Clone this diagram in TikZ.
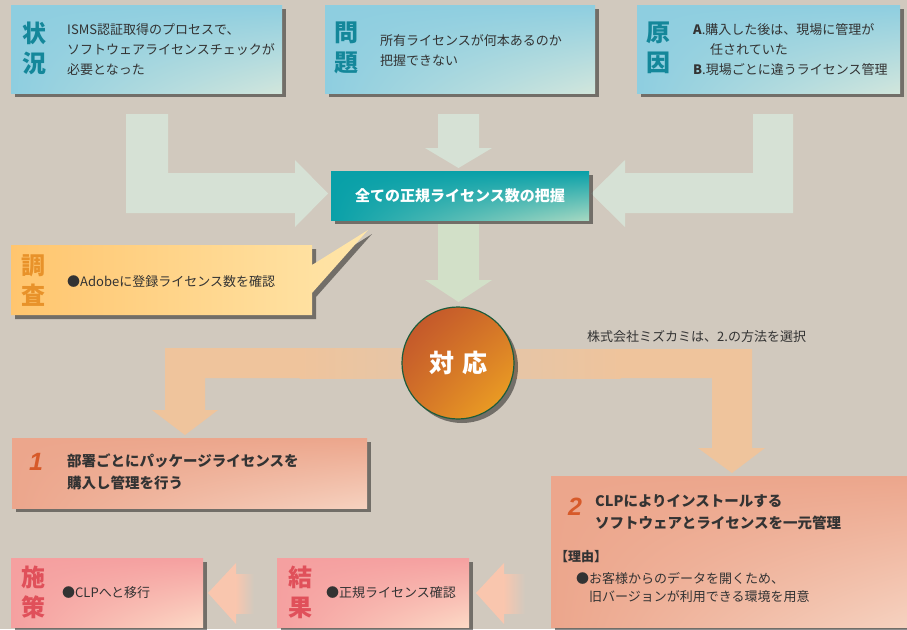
\documentclass[tikz,border=0pt]{standalone}
\usepackage{fontspec}
\setmainfont{Noto Sans CJK JP}
\newfontfamily\numfont{Liberation Sans}
\usetikzlibrary{shadows,shadings}
\definecolor{bg}{HTML}{D1C9BE}
\definecolor{blueA}{HTML}{8ECEE0}
\definecolor{blueB}{HTML}{D2E6DC}
\definecolor{teallab}{HTML}{14879A}
\definecolor{txtc}{HTML}{333333}
\definecolor{tealA}{HTML}{08A0A8}
\definecolor{tealB}{HTML}{A6D8C2}
\definecolor{greenarr}{HTML}{D6E1D5}
\definecolor{greenarr2}{HTML}{D2E0C8}
\definecolor{goldA}{HTML}{FFC56E}
\definecolor{goldB}{HTML}{FFE6AA}
\definecolor{goldlab}{HTML}{E8922A}
\definecolor{circA}{HTML}{BE4E2C}
\definecolor{circB}{HTML}{F2AA22}
\definecolor{circE}{HTML}{1D5C3C}
\definecolor{orarr}{HTML}{EFC49C}
\definecolor{salA}{HTML}{ECA68C}
\definecolor{salB}{HTML}{F6D2C0}
\definecolor{digit}{HTML}{D75A2A}
\definecolor{pinkA}{HTML}{F5A0A0}
\definecolor{pinkB}{HTML}{FCDAC6}
\definecolor{pinklab}{HTML}{E0505A}
\definecolor{peach}{HTML}{F9C6AE}
\tikzset{
  shad/.style={drop shadow={shadow xshift=4pt, shadow yshift=-4pt, fill=black, opacity=0.45}},
  tbox/.style={draw=none, inner sep=0pt, anchor=north west, shad},
  bluebox/.style={tbox, upper left=blueA, upper right=blueA, lower left=blueA, lower right=blueB},
  salbox/.style={tbox, upper left=salA, upper right=salA, lower left=salA, lower right=salB},
  pinkbox/.style={tbox, upper left=pinkA, upper right=pinkA, lower left=pinkA, lower right=pinkB},
  txt/.style={anchor=west, align=left, inner sep=0pt, text=txtc, font=\fontsize{13}{20}\selectfont},
  btxt/.style={anchor=west, align=left, inner sep=0pt, text=txtc, font=\fontsize{14.5}{21.5}\selectfont\bfseries},
  lab/.style={align=center, inner sep=0pt, font=\fontsize{24}{30}\selectfont\bfseries},
  num/.style={inner sep=0pt, text=digit, font=\numfont\fontsize{25}{25}\selectfont\bfseries\itshape},
}
\begin{document}
\begin{tikzpicture}[x=1pt,y=-1pt]
\fill[bg] (0,0) rectangle (907,629);
\useasboundingbox (0,0) rectangle (907,629);

% ---- green arrows at the top ----
\fill[greenarr] (126,114) -- (168,114) -- (168,173) -- (295,173) -- (295,160) -- (328,193.5)
  -- (295,227) -- (295,213) -- (126,213) -- cycle;
\fill[greenarr] (793,114) -- (753,114) -- (753,173) -- (625,173) -- (625,160) -- (591,193.5)
  -- (625,227) -- (625,213) -- (793,213) -- cycle;
\fill[greenarr] (438,114) -- (479,114) -- (479,148) -- (492,148) -- (458.5,168) -- (425,148)
  -- (438,148) -- cycle;
\fill[greenarr2] (438,224) -- (479,224) -- (479,280) -- (492,280) -- (458.5,302) -- (425,280)
  -- (438,280) -- cycle;

% ---- orange arrows from the circle ----
\fill[orarr] (300,348) -- (165,348) -- (165,410) -- (152,410) -- (185,435) -- (218,410)
  -- (205,410) -- (205,378) -- (300,378) -- cycle;
\shade[left color=orarr, right color=orarr!55!bg] (299.5,348) rectangle (458,378);
\fill[orarr] (620,349) -- (752,349) -- (752,448) -- (765,448) -- (732,473) -- (698,448)
  -- (712,448) -- (712,378) -- (620,378) -- cycle;
\shade[left color=orarr!55!bg, right color=orarr] (458,349) rectangle (620.5,378);

% ---- bottom arrows ----
\fill[peach] (208,593) -- (236,563) -- (236,624) -- cycle;
\shade[left color=peach, right color=bg] (235.5,574) rectangle (254,613);
\fill[peach] (476,593) -- (504,563) -- (504,624) -- cycle;
\shade[left color=peach, right color=bg] (503.5,574) rectangle (525,613);

% ---- top boxes ----
\node[bluebox, minimum width=271pt, minimum height=88pt] (s1) at (11,5) {};
\node[lab, text=teallab] (s1l) at (34,48) {状\\況};
\node[txt] (s1t) at (67,50) {ISMS認証取得のプロセスで、\\ソフトウェアライセンスチェックが\\必要となった};

\node[bluebox, minimum width=270pt, minimum height=88pt] (s2) at (325,5) {};
\node[lab, text=teallab] (s2l) at (346,48) {問\\題};
\node[txt] (s2t) at (380,51) {所有ライセンスが何本あるのか\\把握できない};

\node[bluebox, minimum width=263pt, minimum height=88pt] (s3) at (637,5) {};
\node[lab, text=teallab] (s3l) at (658,48) {原\\因};
\node[txt] (s3t) at (693,50) {\textbf{A}.購入した後は、現場に管理が\\\hspace*{17pt}任されていた\\\textbf{B}.現場ごとに違うライセンス管理};

% ---- center box ----
\node[tbox, minimum width=258pt, minimum height=49pt, upper left=tealA, upper right=tealA,
  lower left=tealA, lower right=tealB, text=white, font=\fontsize{15}{15}\selectfont\bfseries,
  anchor=center] (c) at (460,195.5) {全ての正規ライセンス数の把握};

% ---- callout ----
\shade[shad, upper left=goldA, upper right=goldB, lower left=goldA, lower right=goldB]
  (11,245) -- (312,245) -- (312,265) -- (368,230) -- (312,293) -- (312,315) -- (11,315) -- cycle;
\node[inner sep=0pt, minimum width=301pt, minimum height=70pt, anchor=north west] (k) at (11,245) {};
\node[lab, text=goldlab] (kl) at (33,281) {調\\査};
\node[txt] (kt) at (67,282) {●Adobeに登録ライセンス数を確認};

% ---- circle ----
\node[circle, minimum size=112pt, draw=circE, line width=1.2pt, shad,
  upper left=circA, upper right=circA!60!circB, lower left=circA!60!circB, lower right=circB,
  text=white, font=\fontsize{25}{25}\selectfont\bfseries] (r) at (458,363) {対\kern8pt 応};

\node[txt] (sel) at (587,337) {株式会社ミズカミは、2.の方法を選択};

% ---- option boxes ----
\node[salbox, minimum width=355pt, minimum height=70pt] (b1) at (12,438) {};
\node[num] (b1n) at (36,462) {1};
\node[btxt] (b1t) at (67,472) {部署ごとにパッケージライセンスを\\購入し管理を行う};

\node[salbox, minimum width=356pt, minimum height=151pt] (b2) at (551,476) {};
\node[num] (b2n) at (575,507) {2};
\node[btxt] (b2t) at (595,512) {CLPによりインストールする\\ソフトウェアとライセンスを一元管理};
\node[txt, font=\fontsize{13}{20}\selectfont\bfseries] (b2r) at (555,557) {【理由】};
\node[txt] (b2a) at (576,578) {●お客様からのデータを開くため、};
\node[txt] (b2b) at (589,597) {旧バージョンが利用できる環境を用意};

% ---- bottom boxes ----
\node[pinkbox, minimum width=192pt, minimum height=69pt] (p1) at (11,558) {};
\node[lab, text=pinklab] (p1l) at (33,592) {施\\策};
\node[txt] (p1t) at (62,593) {●CLPへと移行};

\node[pinkbox, minimum width=192pt, minimum height=69pt] (p2) at (277,558) {};
\node[lab, text=pinklab] (p2l) at (300,592) {結\\果};
\node[txt] (p2t) at (326,593) {●正規ライセンス確認};
\end{tikzpicture}
\end{document}
